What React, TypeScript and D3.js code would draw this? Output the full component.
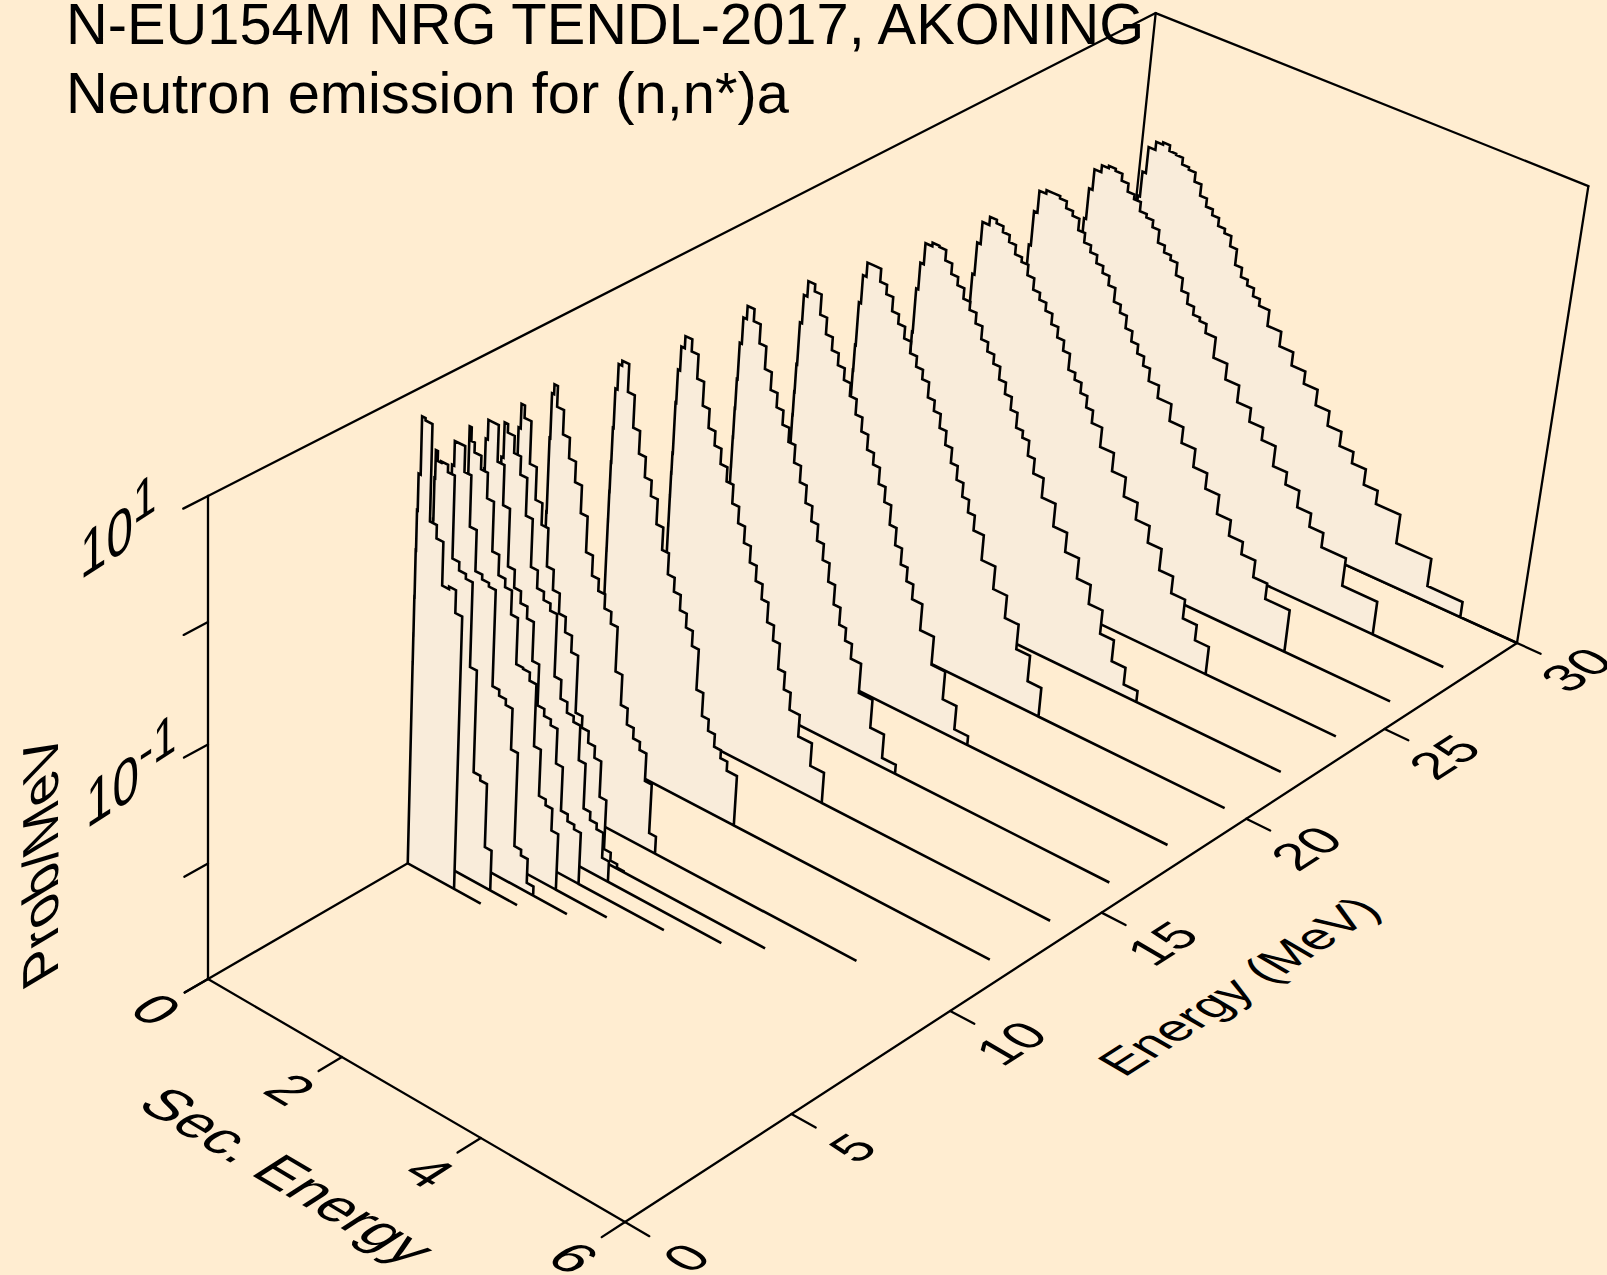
import React from "react";
import * as d3 from "d3";

const TITLE_LINES = ["N-EU154M NRG TENDL-2017, AKONING", "Neutron emission for (n,n*)a"];
const SEC_TICKS = [0, 2, 4, 6];
const ENERGY_TICKS = [0, 5, 10, 15, 20, 25, 30];
const PROB_TICKS = [10, 1, 0.1, 0.01, 0.001];

const SEC_EDGES = [0, 0.001, 0.002, 0.005, 0.01, 0.02, 0.05, 0.1, 0.2, 0.3, 0.4, 0.5, 0.6, 0.7, 0.8, 0.9, 1.0, 1.1, 1.2, 1.3, 1.4, 1.5, 1.6, 1.7, 1.8, 1.9, 2.05, 2.25, 2.45, 2.65, 2.85, 3.05, 3.25, 3.45, 3.65, 3.85, 4.2, 4.7, 5.2, 5.7, 6.2];

const LOG_E30 = [-1.83, -1.63, -1.38, -1.13, -0.88, -0.59, -0.37, -0.14, -0.07, -0.05, -0.1, -0.11, -0.17, -0.19, -0.27, -0.37, -0.44, -0.49, -0.56, -0.6, -0.69, -0.83, -0.91, -0.96, -1.03, -1.09, -1.23, -1.36, -1.48, -1.59, -1.73, -1.86, -1.99, -2.09, -2.23, -2.35, -2.61, -2.86];
const LOG_E28 = [-1.75, -1.55, -1.3, -1.05, -0.8, -0.53, -0.26, -0.08, -0.02, 0, -0.02, -0.08, -0.15, -0.19, -0.27, -0.3, -0.36, -0.47, -0.53, -0.57, -0.68, -0.79, -0.88, -0.95, -0.98, -1.06, -1.24, -1.38, -1.53, -1.65, -1.76, -1.94, -2.05, -2.2, -2.32, -2.45, -2.7];
const LOG_E26 = [-1.7, -1.5, -1.25, -1, -0.75, -0.5, -0.2, -0.01, 0.02, 0.02, 0, -0.06, -0.1, -0.2, -0.28, -0.34, -0.41, -0.47, -0.55, -0.67, -0.74, -0.85, -0.94, -1.02, -1.1, -1.21, -1.32, -1.47, -1.61, -1.77, -1.91, -2.08, -2.22, -2.33, -2.48, -2.62];
const LOG_E24 = [-1.64, -1.44, -1.19, -0.97, -0.74, -0.49, -0.21, -0.02, 0.05, 0.02, -0.03, -0.09, -0.17, -0.21, -0.3, -0.4, -0.46, -0.53, -0.62, -0.71, -0.8, -0.94, -1, -1.09, -1.19, -1.3, -1.47, -1.63, -1.8, -1.95, -2.1, -2.29, -2.44, -2.61, -2.75];
const LOG_E22 = [-1.54, -1.34, -1.09, -0.89, -0.73, -0.35, -0.12, 0.06, 0.09, 0.08, -0.01, -0.1, -0.17, -0.26, -0.33, -0.42, -0.53, -0.61, -0.69, -0.8, -0.9, -1.01, -1.14, -1.2, -1.33, -1.46, -1.63, -1.83, -2, -2.18, -2.35, -2.56, -2.75, -2.9];
const LOG_E20 = [-1.44, -1.24, -0.99, -0.79, -0.57, -0.2, 0.04, 0.16, 0.16, 0.05, -0.03, -0.15, -0.23, -0.33, -0.43, -0.52, -0.6, -0.73, -0.82, -0.94, -1.06, -1.19, -1.31, -1.43, -1.54, -1.67, -1.89, -2.09, -2.29, -2.51, -2.74];
const LOG_E18 = [-1.35, -1.15, -0.9, -0.7, -0.46, -0.1, 0.14, 0.27, 0.21, 0.04, -0.1, -0.21, -0.31, -0.41, -0.52, -0.65, -0.77, -0.9, -1, -1.14, -1.27, -1.44, -1.59, -1.73, -1.85, -1.98, -2.21, -2.46, -2.71, -2.92];
const LOG_E16 = [-1.26, -1.06, -0.81, -0.56, -0.31, 0, 0.22, 0.33, 0.23, 0.07, -0.12, -0.27, -0.39, -0.51, -0.63, -0.78, -0.92, -1.07, -1.2, -1.34, -1.48, -1.64, -1.81, -1.96, -2.07, -2.2, -2.46, -2.71, -2.92];
const LOG_E14 = [-1.28, -1.03, -0.83, -0.66, -0.23, 0.05, 0.25, 0.35, 0.25, 0.05, -0.15, -0.31, -0.43, -0.56, -0.68, -0.84, -0.98, -1.12, -1.26, -1.39, -1.52, -1.69, -1.82, -2.04, -2.19, -2.34, -2.53, -2.73];
const LOG_E12 = [-1.2, -0.95, -0.7, -0.45, -0.16, 0.17, 0.38, 0.42, 0.19, -0.08, -0.27, -0.44, -0.57, -0.78, -0.97, -1.15, -1.27, -1.4, -1.52, -1.65, -2.0, -2.2, -2.3, -2.41, -2.48, -2.56];
const LOG_E10 = [-1.3, -1.0, -0.8, -0.58, 0.04, 0.41, 0.49, 0.32, 0.12, -0.05, -0.22, -0.45, -0.75, -0.92, -1.02, -1.14, -1.24, -1.62, -1.88, -2.02, -2.11, -2.18, -2.42, -2.85];
const LOG_E9 = [-1.2, -0.9, -0.6, -0.3, -0.02, 0.27, 0.47, 0.37, 0.02, -0.25, -0.43, -0.75, -0.92, -1.09, -1.22, -1.36, -1.85, -1.95, -2.05, -2.15, -2.46, -2.89, -2.96, -2.99];
const LOG_E8P5 = [-1.3, -1.0, -0.7, -0.4, -0.1, 0.1, 0.39, 0.32, 0.18, 0.03, -0.28, -0.68, -0.83, -0.9, -0.96, -1.49, -1.65, -1.74, -1.79, -2.09, -2.48, -2.55, -2.6, -2.82];
const LOG_E8 = [-1.1, -0.8, -0.5, -0.25, 0.07, 0.32, 0.48, 0.48, 0.18, -0.15, -0.63, -0.78, -0.88, -0.98, -1.31, -1.66, -1.72, -1.77, -2.07, -2.45, -2.51, -2.55];
const LOG_E7P5 = [-1.1, -0.8, -0.5, -0.25, 0.08, 0.49, 0.38, 0.3, 0.19, -0.02, -0.43, -0.6, -0.67, -0.87, -1.26, -1.27, -1.34, -1.87, -2.27, -2.32, -2.51];
const LOG_E7 = [-1.5, -1.2, -1.0, -0.8, -0.54, 0.25, 0.45, 0.45, 0.24, -0.18, -0.52, -0.56, -0.59, -1.4, -1.45, -1.5, -1.85, -2.66, -2.71, -2.92];
const LOG_E6P5 = [-1.0, -0.7, -0.4, -0.13, 0.21, 0.44, 0.36, 0.37, 0.31, -0.37, -0.44, -0.48, -1.19, -2.06, -2.1, -2.65];
const LOG_E6 = [-1.26, -1.02, -0.7, -0.31, 0.02, 0.32, 0.79, 0.77, -0.02, -0.13, -0.49, -0.47, -0.66];

// back (30 MeV) to front (6 MeV): incident energy, last secondary energy of the tail, log10 values
const INCIDENT = [30, 28, 26, 24, 22, 20, 18, 16, 14, 12, 10, 9, 8.5, 8, 7.5, 7, 6.5, 6];
const SEC_END = [6, 5.7, 5.7, 5.7, 5.7, 5.7, 5.7, 5.7, 5.7, 5.7, 4.7, 3.85, 3.45, 2.85, 2.25, 1.9, 1.4, 1.1];
const SPECTRA = [LOG_E30, LOG_E28, LOG_E26, LOG_E24, LOG_E22, LOG_E20, LOG_E18, LOG_E16, LOG_E14, LOG_E12, LOG_E10, LOG_E9, LOG_E8P5, LOG_E8, LOG_E7P5, LOG_E7, LOG_E6P5, LOG_E6];

const BG = "#ffedd1";
const FILL = "#f9ecda";
const FONT = "'Liberation Sans', Arial, sans-serif";

// box corners on screen
const F00 = [208, 979];
const F10 = [625, 1222];
const F11 = [1517, 643];
const F01 = [1109, 457];
const TOP00Y = 496;
const VANISH = [208, 9100];
const BACK_DROOP = 4.3;

const secScale = d3.scaleLinear().domain([0, 6]).range([0, 1]);
const energyScale = d3.scaleLinear().domain([0, 30]).range([0, 1]);
const probScale = d3.scaleLog().domain([1e-3, 10]).range([0, 1]).clamp(true);

function makeProjection() {
  const [x0, y0] = F00, [x1, y1] = F10, [x2, y2] = F11, [x3, y3] = F01;
  const dx1 = x1 - x2, dx2 = x3 - x2, sx = x0 - x1 + x2 - x3;
  const dy1 = y1 - y2, dy2 = y3 - y2, sy = y0 - y1 + y2 - y3;
  const den = dx1 * dy2 - dx2 * dy1;
  const g = (sx * dy2 - dx2 * sy) / den;
  const h = (dx1 * sy - sx * dy1) / den;
  const a = x1 - x0 + g * x1, b = x3 - x0 + h * x3;
  const d = y1 - y0 + g * y1, e = y3 - y0 + h * y3;
  const k = (TOP00Y - y0) / (VANISH[1] - TOP00Y);
  return (sec: number, energy: number, z: number): [number, number] => {
    const u = secScale(sec), v = energyScale(energy);
    const X = a * u + b * v + x0 + z * k * VANISH[0];
    const Y = d * u + e * v + y0 + z * k * VANISH[1] + z * v * BACK_DROOP;
    const W = g * u + h * v + 1 + z * k;
    return [X / W, Y / W];
  };
}
const project = makeProjection();
const lineGen = d3.line();

function spectrumPath(energy: number, logs: number[], secEnd: number) {
  const pts: [number, number][] = [project(0, energy, 0)];
  logs.forEach((lg, i) => {
    const z = probScale(Math.pow(10, lg));
    const a = SEC_EDGES[i];
    const b = Math.min(SEC_EDGES[i + 1], 6);
    pts.push(project(a, energy, z));
    pts.push(project(b, energy, z));
  });
  const last = Math.min(SEC_EDGES[logs.length], 6);
  pts.push(project(last, energy, 0));
  if (secEnd > last) pts.push(project(secEnd, energy, 0));
  return lineGen(pts) + "Z";
}

const seg = (a: [number, number], b: [number, number]) => lineGen([a, b]) as string;

function Skewed({ text, at, m, size, anchor = "middle", sup }: any) {
  return (
    <text transform={`matrix(${m.join(" ")} ${at[0]} ${at[1]})`} fontSize={size} textAnchor={anchor} fontFamily={FONT} fill="#000">
      {text}
      {sup ? <tspan fontSize={size * 0.88} dy={-size * 0.33}>{sup}</tspan> : null}
    </text>
  );
}

const M_SEC = [0.86, 0.51, -0.84, 0.54];
const M_ENERGY = [0.84, -0.54, 0.86, 0.5];
const M_PROB = [0, -1, 0.92, -0.55];
const M_Z = [0.745, -0.48, 0, 1];

export default function App() {
  const T = 0.68;
  const boxSegs: [[number, number], [number, number]][] = [
    [project(0, 0, 0), project(6, 0, 0)],
    [project(6, 0, 0), project(6, 30, 0)],
    [project(0, 0, 0), project(0, 30, 0)],
    [project(0, 30, 0), project(6, 30, 0)],
    [project(0, 0, 0), project(0, 0, 1)],
    [project(0, 0, 1), project(0, 30, 1)],
    [project(0, 30, 1), project(6, 30, 1)],
    [project(6, 30, 1), project(6, 30, 0)],
    [project(0, 30, 0), project(0, 30, 1)],
  ];
  return (
    <svg width={1607} height={1275} viewBox="0 0 1607 1275" style={{ position: "absolute", left: 0, top: 0, display: "block" }}>
      <rect width={1607} height={1275} fill={BG} />
      <g fontFamily={FONT} fill="#000" fontSize={57.8}>
        <text x={66} y={44}>{TITLE_LINES[0]}</text>
        <text x={66} y={113}>{TITLE_LINES[1]}</text>
      </g>
      <g stroke="#000" strokeWidth={2.3} fill="none" strokeLinecap="round">
        {boxSegs.map((s, i) => <path key={i} d={seg(s[0], s[1])} />)}
        {SEC_TICKS.map((s) => <path key={s} d={seg(project(s, 0, 0), project(s, -T, 0))} />)}
        {ENERGY_TICKS.map((e) => <path key={e} d={seg(project(6, e, 0), project(6.33, e, 0))} />)}
        {PROB_TICKS.map((p) => <path key={p} d={seg(project(0, 0, probScale(p)), project(0, -T, probScale(p)))} />)}
      </g>
      <g stroke="#000" strokeWidth={2.6} fill={FILL} strokeLinejoin="miter">
        {INCIDENT.map((e, i) => <path key={e} d={spectrumPath(e, SPECTRA[i], SEC_END[i])} />)}
      </g>
      {SEC_TICKS.map((s) => {
        const p = project(s, -2.2, 0);
        return <Skewed key={s} text={String(s)} at={[p[0] + 8, p[1] - 3]} m={M_SEC} size={56} />;
      })}
      {ENERGY_TICKS.map((e) => {
        const p = project(6.85, e, 0);
        return <Skewed key={e} text={String(e)} at={[p[0] + 14, p[1] + 8]} m={M_ENERGY} size={52} />;
      })}
      <Skewed text="Sec. Energy" at={[135, 1106]} m={M_SEC} size={58} anchor="start" />
      <Skewed text="Energy (MeV)" at={[1124, 1078]} m={M_ENERGY} size={50} anchor="start" />
      <Skewed text="Prob/MeV" at={[58, 973]} m={M_PROB} size={55} anchor="start" />
      <Skewed text="10" at={[80, 580]} m={M_Z} size={64} anchor="start" sup="1" />
      <Skewed text="10" at={[86, 829]} m={M_Z} size={64} anchor="start" sup="-1" />
    </svg>
  );
}
